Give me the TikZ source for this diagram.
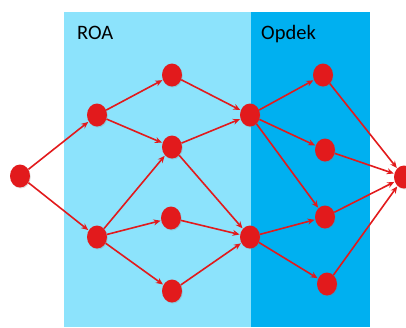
\documentclass[tikz,border=0pt]{standalone}
\usepackage{fontspec}
\setmainfont{Carlito}
\usetikzlibrary{shapes.geometric,arrows.meta,shadows}
\definecolor{roablue}{RGB}{140,227,252}
\definecolor{opdekblue}{RGB}{0,176,240}
\definecolor{dotred}{RGB}{226,26,28}
\tikzset{
  dot/.style={ellipse, fill=dotred, minimum width=20pt, minimum height=23pt, inner sep=0pt,
    drop shadow={opacity=0.25, shadow xshift=0.8pt, shadow yshift=-1pt}},
  link/.style={draw=dotred, line width=1.6pt, -{Stealth[length=7pt,width=6pt]}, shorten >=0.5pt},
  zone/.style={font=\fontsize{20.5}{22}\selectfont, anchor=base west, text=black, inner sep=0pt}
}
\begin{document}
\begin{tikzpicture}[x=1pt,y=-1pt]
\useasboundingbox (0,0) rectangle (406,327);
% zones
\fill[roablue] (64,12) rectangle (251,327);
\fill[opdekblue] (251,12) rectangle (370,327);
\node[zone] (roa) at (77,39) {ROA};
\node[zone] (opdek) at (261,39) {Opdek};
% nodes
\node[dot] (s) at (20,176) {};
\node[dot] (a1) at (97,115) {};
\node[dot] (a2) at (97,237) {};
\node[dot] (b1) at (172,75) {};
\node[dot] (b2) at (172,147) {};
\node[dot] (b3) at (171,218) {};
\node[dot] (b4) at (172,291) {};
\node[dot] (c1) at (250,115) {};
\node[dot] (c2) at (250,237) {};
\node[dot] (d1) at (323,75) {};
\node[dot] (d2) at (325,150) {};
\node[dot] (d3) at (325,217) {};
\node[dot] (d4) at (327,284) {};
\node[dot] (t) at (404,177) {};
% connections
\foreach \u/\v in {s/a1,s/a2,a1/b1,a1/b2,a2/b2,a2/b3,a2/b4,
  b1/c1,b2/c1,b2/c2,b3/c2,b4/c2,c1/d1,c1/d2,c1/d3,c2/d3,c2/d4,
  d1/t,d2/t,d3/t,d4/t}
  \draw[link] (\u) -- (\v);
\end{tikzpicture}
\end{document}
